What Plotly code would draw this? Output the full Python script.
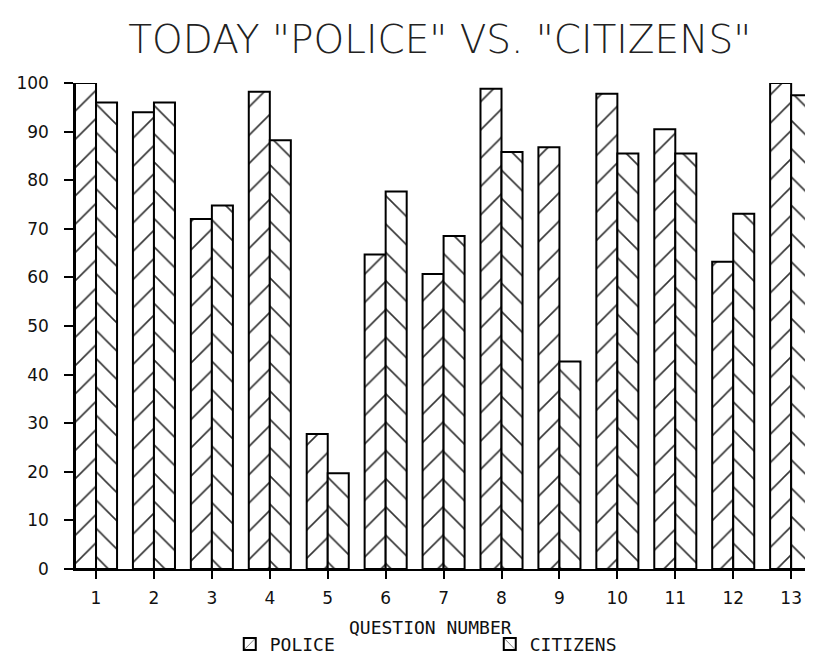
import plotly.graph_objects as go

questions = [str(i) for i in range(1, 14)]
police = [100, 94, 72, 98.2, 27.8, 64.7, 60.7, 98.8, 86.8, 97.8, 90.5, 63.2, 100]
citizens = [96, 96, 74.8, 88.2, 19.7, 77.7, 68.5, 85.8, 42.7, 85.5, 85.5, 73.1, 97.5]
y_ticks = [0, 10, 20, 30, 40, 50, 60, 70, 80, 90, 100]

MONO = "DejaVu Sans Mono, Liberation Mono, monospace"
SANS = "DejaVu Sans, Liberation Sans, sans-serif"
tick_font = dict(family=SANS, size=17, color="#111")

fig = go.Figure()
fig.add_trace(go.Bar(
    x=questions, y=police, name="POLICE",
    marker=dict(color="white", line=dict(color="black", width=2),
                pattern=dict(shape="/", fgcolor="black", fgopacity=0.8, bgcolor="white",
                             size=20, solidity=0.08)),
))
fig.add_trace(go.Bar(
    x=questions, y=citizens, name="CITIZENS",
    marker=dict(color="white", line=dict(color="black", width=2),
                pattern=dict(shape="\\", fgcolor="black", fgopacity=0.8, bgcolor="white",
                             size=20, solidity=0.08)),
))

fig.update_layout(
    width=813, height=664,
    margin=dict(l=67, r=9, t=75, b=89),
    paper_bgcolor="white", plot_bgcolor="white",
    barmode="group", bargap=0.274, bargroupgap=0,
    title=dict(text='TODAY "POLICE" VS. "CITIZENS"', x=0.531, xanchor="center",
               y=0.953, yanchor="middle",
               font=dict(family="DejaVu Sans ExtraLight, DejaVu Sans, sans-serif",
                         size=39, color="#222", weight=200)),
    showlegend=True,
    legend=dict(orientation="h", x=0.21, xanchor="left", y=-0.155, yanchor="middle",
                entrywidth=215, entrywidthmode="pixels",
                font=dict(family=MONO, size=18, color="#111"),
                bgcolor="rgba(0,0,0,0)"),
    annotations=[dict(text="QUESTION NUMBER", x=(422 - 67) / (813 - 67 - 9), xref="paper",
                      y=-0.12, yref="paper",
                      showarrow=False, xanchor="center", yanchor="middle",
                      font=dict(family=MONO, size=18, color="#111"))],
)

fig.update_xaxes(
    type="category", range=[-0.363, 12.36],
    showline=True, linecolor="black", linewidth=2,
    ticks="outside", ticklen=8, tickwidth=1.5, tickcolor="black",
    ticklabelstandoff=5,
    tickfont=tick_font, showgrid=False, zeroline=False,
)
fig.update_yaxes(
    range=[0, 100], tickvals=y_ticks,
    showline=True, linecolor="black", linewidth=1.5,
    ticks="outside", ticklen=9, tickwidth=1.5, tickcolor="black",
    ticklabelstandoff=12,
    tickfont=tick_font, showgrid=False, zeroline=False,
)

fig.write_html("out.html")
